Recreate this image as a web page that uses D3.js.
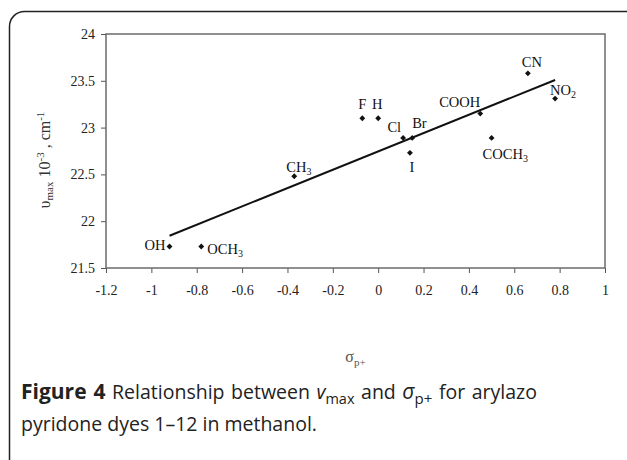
<!DOCTYPE html>
<html>
<head>
<meta charset="utf-8">
<script src="https://cdn.jsdelivr.net/npm/d3@7"></script>
<style>
  body { margin: 0; background: #fff; }
  svg { display: block; }
  .tick text { font-family: "Liberation Serif", "Times New Roman", serif; font-size: 14px; fill: #222; }
  .pt-label { font-family: "Liberation Serif", "Times New Roman", serif; font-size: 14.5px; fill: #111; }
  .caption { font-family: "Open Sans", "Noto Sans", sans-serif; font-size: 19.5px; fill: #222; }
</style>
</head>
<body>
<script>
// substituent, sigma p+ and nu max (10^-3 cm^-1)
var groups = ["OH", "OCH3", "CH3", "F", "H", "Cl", "I", "Br", "COOH", "COCH3", "CN", "NO2"];
var sigma  = [-0.92, -0.78, -0.37, -0.07, 0.00, 0.11, 0.14, 0.15, 0.45, 0.50, 0.66, 0.78];
var numax  = [21.73, 21.73, 22.48, 23.10, 23.10, 22.89, 22.73, 22.89, 23.15, 22.89, 23.58, 23.31];

var xTicks = [-1.2, -1, -0.8, -0.6, -0.4, -0.2, 0, 0.2, 0.4, 0.6, 0.8, 1];
var yTicks = [21.5, 22, 22.5, 23, 23.5, 24];

// where each label sits relative to its marker: [dx, dy, anchor]
var labelPlace = {
  OH: [-4, 4, "end"], OCH3: [6, 8, "start"], CH3: [-8, -4, "start"],
  F: [0, -9, "middle"], H: [-1, -9, "middle"], Cl: [-2, -6, "end"],
  I: [2, 19, "middle"], Br: [0, -10, "start"], COOH: [0, -7, "end"],
  COCH3: [-9, 21, "start"], CN: [4, -6, "middle"], NO2: [-5, -4, "start"]
};

var W = 627, H = 460;
var margin = { top: 34, right: 22, bottom: 192, left: 106 },
  width = W - margin.left - margin.right,
  height = H - margin.top - margin.bottom;

var svg = d3.select("body").append("svg")
  .attr("width", W)
  .attr("height", H);

// outer figure frame (open at the bottom and right, as cropped)
svg.append("rect")
  .attr("x", 9.5).attr("y", 11.5)
  .attr("width", 640).attr("height", 500)
  .attr("rx", 15)
  .attr("fill", "none")
  .attr("stroke", "#222")
  .attr("stroke-width", 1.5);

var g = svg.append("g")
  .attr("transform", "translate(" + margin.left + "," + margin.top + ")");

var x = d3.scaleLinear().domain([-1.2, 1]).range([0, width]);
var y = d3.scaleLinear().domain([21.5, 24]).range([height, 0]);

var fmt = function (d) { return String(d); };

g.append("g")
  .attr("transform", "translate(0," + height + ")")
  .call(d3.axisBottom(x).tickValues(xTicks).tickFormat(fmt).tickSize(5).tickPadding(12))
  .call(function (a) { a.select(".domain").remove(); });

g.append("g")
  .call(d3.axisLeft(y).tickValues(yTicks).tickFormat(fmt).tickSize(5).tickPadding(6))
  .call(function (a) { a.select(".domain").remove(); });

g.selectAll(".tick line").attr("stroke", "#555");

// plot area border
g.append("rect")
  .attr("x", 0).attr("y", 0)
  .attr("width", width).attr("height", height)
  .attr("fill", "none")
  .attr("stroke", "#6b6b6b")
  .attr("stroke-width", 1.5);

// least squares trend line over the data range
var pts = groups.map(function (k, i) { return { name: k, s: sigma[i], v: numax[i] }; });
var mx = d3.mean(sigma), my = d3.mean(numax);
var sxy = d3.sum(pts, function (d) { return (d.s - mx) * (d.v - my); });
var sxx = d3.sum(pts, function (d) { return (d.s - mx) * (d.s - mx); });
var slope = sxy / sxx, icpt = my - slope * mx;
var ext = d3.extent(sigma);

g.append("line")
  .attr("x1", x(ext[0])).attr("y1", y(icpt + slope * ext[0]))
  .attr("x2", x(ext[1])).attr("y2", y(icpt + slope * ext[1]))
  .attr("stroke", "#111")
  .attr("stroke-width", 2);

g.selectAll(".pt")
  .data(pts)
  .enter().append("path")
  .attr("class", "pt")
  .attr("d", d3.symbol(d3.symbolSquare, 17))
  .attr("transform", function (d) { return "translate(" + x(d.s) + "," + y(d.v) + ") rotate(45)"; })
  .attr("fill", "#111");

// labels with subscript digits
var lab = g.selectAll(".pt-label")
  .data(pts)
  .enter().append("text")
  .attr("class", "pt-label")
  .attr("x", function (d) { return x(d.s) + labelPlace[d.name][0]; })
  .attr("y", function (d) { return y(d.v) + labelPlace[d.name][1]; })
  .attr("text-anchor", function (d) { return labelPlace[d.name][2]; });

lab.each(function (d) {
  var t = d3.select(this);
  var m = d.name.match(/^(.*?)(\d)$/);
  if (m) {
    t.append("tspan").text(m[1]);
    t.append("tspan").attr("dy", 3).attr("font-size", "10px").text(m[2]);
  } else {
    t.text(d.name);
  }
});

// y axis title
var yt = svg.append("text")
  .attr("transform", "translate(50,160) rotate(-90)")
  .attr("text-anchor", "middle")
  .attr("font-family", "Liberation Serif, serif")
  .attr("font-size", "16px")
  .attr("fill", "#333");
yt.append("tspan").text("υ");
yt.append("tspan").attr("font-size", "11px").attr("dy", 3).text("max");
yt.append("tspan").attr("dy", -3).text(" 10");
yt.append("tspan").attr("font-size", "11px").attr("dy", -6).text("-3");
yt.append("tspan").attr("dy", 6).text(" , cm");
yt.append("tspan").attr("font-size", "11px").attr("dy", -6).text("-1");

// x axis title
var xt = svg.append("text")
  .attr("x", margin.left + width / 2)
  .attr("y", 362)
  .attr("text-anchor", "middle")
  .attr("font-family", "Liberation Serif, serif")
  .attr("font-size", "16px")
  .attr("fill", "#555");
xt.append("tspan").text("σ");
xt.append("tspan").attr("font-size", "11px").attr("dy", 4).text("p+");

// caption
var c1 = svg.append("text").attr("class", "caption").attr("x", 21).attr("y", 399)
  .attr("word-spacing", "1.5px");
c1.append("tspan").attr("font-weight", "bold").attr("font-size", "21px").text("Figure 4");
c1.append("tspan").text(" Relationship between ");
c1.append("tspan").attr("font-style", "italic").text("v");
c1.append("tspan").attr("font-size", "14.5px").attr("dy", 5).text("max");
c1.append("tspan").attr("dy", -5).text(" and ");
c1.append("tspan").attr("font-style", "italic").attr("font-size", "21px").text("σ");
c1.append("tspan").attr("font-size", "15px").attr("dy", 5).text("p+");
c1.append("tspan").attr("dy", -5).text(" for arylazo");

svg.append("text").attr("class", "caption").attr("x", 21).attr("y", 431)
  .text("pyridone dyes 1–12 in methanol.");
</script>
</body>
</html>
